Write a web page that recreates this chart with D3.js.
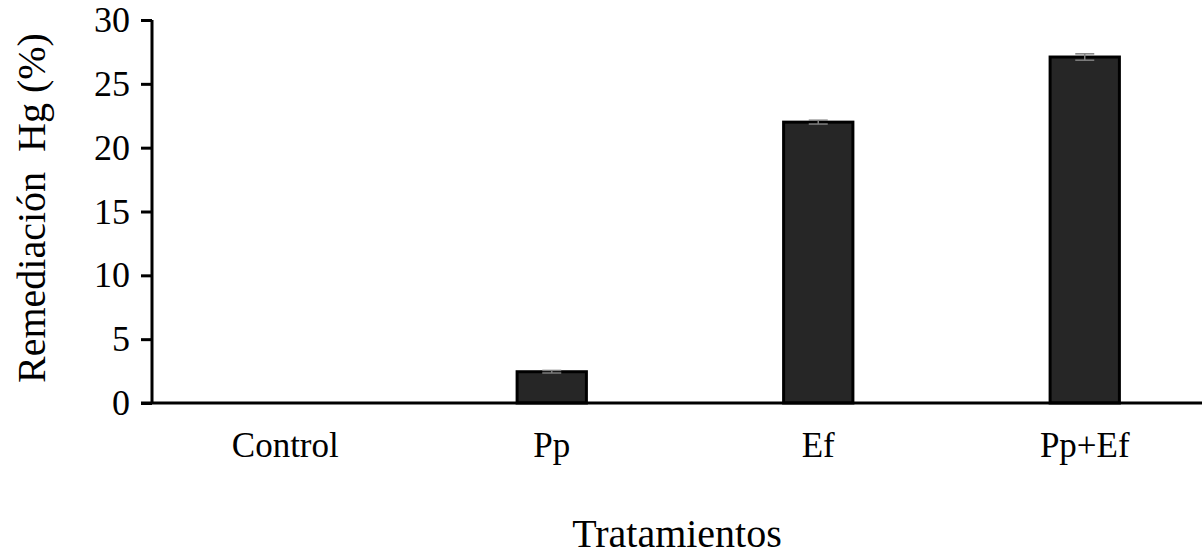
<!DOCTYPE html>
<html>
<head>
<meta charset="utf-8">
<script src="https://cdn.jsdelivr.net/npm/d3@7"></script>
<style>
  html, body { margin: 0; padding: 0; background: #fff; }
  svg { display: block; }
  text { font-family: "Liberation Serif", "Times New Roman", serif; fill: #000; }
</style>
</head>
<body>
<svg id="chart" width="1202" height="557"></svg>
<script>
// Mercury remediation by treatment
const categories = ["Control", "Pp", "Ef", "Pp+Ef"];
const remediation = [0, 2.45, 22.0, 27.1];
const errors = [0, 0.1, 0.15, 0.25];
const yTicks = [0, 5, 10, 15, 20, 25, 30];

const svg = d3.select("#chart");
const margin = { left: 152, top: 20, right: -16, bottom: 154 };
const W = 1202, H = 557;
const x0 = margin.left, x1 = W - margin.right;
const yBottom = H - margin.bottom, yTop = margin.top;

const x = d3.scaleBand().domain(categories).range([x0, x1]).paddingInner(0).paddingOuter(0);
const y = d3.scaleLinear().domain([0, 30]).range([yBottom, yTop]);

const barW = x.bandwidth() * 0.26;

// bars
svg.append("g").selectAll("rect")
  .data(categories.map((c, i) => ({ c, v: remediation[i], e: errors[i] })).filter(d => d.v > 0))
  .join("rect")
  .attr("x", d => x(d.c) + x.bandwidth() / 2 - barW / 2)
  .attr("y", d => y(d.v))
  .attr("width", barW)
  .attr("height", d => y(0) - y(d.v))
  .attr("fill", "#262626")
  .attr("stroke", "#000")
  .attr("stroke-width", 3);

// error bars
const eb = svg.append("g").attr("stroke", "#7f7f7f").attr("stroke-width", 1.5);
categories.forEach((c, i) => {
  if (remediation[i] <= 0) return;
  const cx = x(c) + x.bandwidth() / 2;
  const hi = y(remediation[i] + errors[i]), lo = y(remediation[i] - errors[i]);
  eb.append("line").attr("x1", cx).attr("x2", cx).attr("y1", hi).attr("y2", lo);
  eb.append("line").attr("x1", cx - 9.5).attr("x2", cx + 9.5).attr("y1", hi).attr("y2", hi);
  eb.append("line").attr("x1", cx - 9.5).attr("x2", cx + 9.5).attr("y1", lo).attr("y2", lo);
});

// y axis
const yAxis = svg.append("g")
  .attr("transform", `translate(${x0},0)`)
  .call(d3.axisLeft(y).tickValues(yTicks).tickSize(11).tickPadding(11).tickFormat(d3.format("d")));
yAxis.attr("font-size", null).attr("font-family", null);
yAxis.select(".domain").attr("stroke", "#000").attr("stroke-width", 3)
  .attr("d", `M0,${yTop}V${yBottom}`);
yAxis.selectAll(".tick line").attr("stroke", "#000").attr("stroke-width", 3);
yAxis.selectAll(".tick text").style("font-size", "36px");

// x axis
const xAxis = svg.append("g")
  .attr("transform", `translate(0,${yBottom})`)
  .call(d3.axisBottom(x).tickSize(0).tickPadding(0));
xAxis.attr("font-size", null).attr("font-family", null);
xAxis.select(".domain").attr("stroke", "#000").attr("stroke-width", 3)
  .attr("d", `M${x0 - 11},0H${x1}`);
xAxis.selectAll(".tick text")
  .attr("dy", null)
  .attr("y", 54)
  .style("font-size", "35px");

// axis titles
svg.append("text")
  .attr("x", 677).attr("y", 547)
  .attr("text-anchor", "middle")
  .style("font-size", "40px")
  .text("Tratamientos");

svg.append("text")
  .attr("transform", "translate(45,208) rotate(-90)")
  .attr("text-anchor", "middle")
  .style("font-size", "40px")
  .attr("xml:space", "preserve")
  .style("white-space", "pre")
  .text("Remediación  Hg (%)");
</script>
</body>
</html>
